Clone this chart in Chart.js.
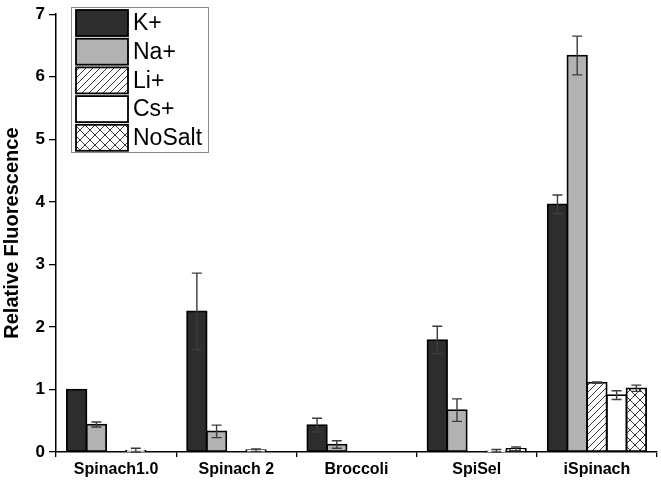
<!DOCTYPE html>
<html lang="en">
<head>
  <meta charset="UTF-8" />
  <title>Relative Fluorescence</title>
  <script src="https://cdn.jsdelivr.net/npm/chart.js"></script>
  <style>
    body { margin: 0; background: #fff; }
    #wrap { width: 661px; height: 480px; }
  </style>
</head>
<body>
  <div id="wrap"><canvas id="grafico" width="661" height="480"></canvas></div>

  <script>
    const categories = ['Spinach1.0', 'Spinach 2', 'Broccoli', 'SpiSel', 'iSpinach'];
    const kPlus   = [1.00, 2.25, 0.43, 1.79, 3.96];
    const kErr    = [0.00, 0.61, 0.11, 0.22, 0.15];
    const naPlus  = [0.44, 0.33, 0.12, 0.67, 6.34];
    const naErr   = [0.04, 0.10, 0.06, 0.18, 0.31];
    const liPlus  = [0, 0, 0, 0, 1.11];
    const liErr   = [0, 0, 0, 0, 0.01];
    const csPlus  = [0.02, 0.03, 0, 0.01, 0.91];
    const csErr   = [0.04, 0.02, 0, 0.03, 0.07];
    const noSalt  = [0, 0, 0, 0.05, 1.02];
    const noSaltErr = [0, 0, 0, 0.03, 0.05];
    const yTicks = [0, 1, 2, 3, 4, 5, 6, 7];

    function rayas(tam, ambas) {
      const c = document.createElement('canvas');
      c.width = tam; c.height = tam;
      const g = c.getContext('2d');
      g.fillStyle = '#fff';
      g.fillRect(0, 0, tam, tam);
      g.strokeStyle = '#222';
      g.lineWidth = 0.9;
      g.beginPath();
      g.moveTo(0, tam); g.lineTo(tam, 0);
      g.moveTo(-1, 1); g.lineTo(1, -1);
      g.moveTo(tam - 1, tam + 1); g.lineTo(tam + 1, tam - 1);
      if (ambas) {
        g.moveTo(0, 0); g.lineTo(tam, tam);
        g.moveTo(tam - 1, -1); g.lineTo(tam + 1, 1);
        g.moveTo(-1, tam - 1); g.lineTo(1, tam + 1);
      }
      g.stroke();
      return g.createPattern(c, 'repeat');
    }

    const ctx = document.getElementById('grafico').getContext('2d');
    const patLi = rayas(7, false);
    const patNo = rayas(10, true);

    const serie = (label, data, err, color) => ({
      label, data, err,
      backgroundColor: color,
      borderColor: '#000',
      borderWidth: 1.8,
      borderSkipped: false,
      inflateAmount: 0.8,
      categoryPercentage: 0.82,
      barPercentage: 1.0
    });

    const errorBars = {
      id: 'errorBars',
      afterDatasetsDraw(chart) {
        const g = chart.ctx, y = chart.scales.y;
        g.save();
        g.strokeStyle = '#3c3c3c';
        g.lineWidth = 1.4;
        chart.data.datasets.forEach((ds, i) => {
          chart.getDatasetMeta(i).data.forEach((bar, j) => {
            const e = ds.err[j];
            if (!e) return;
            const v = ds.data[j];
            const t = y.getPixelForValue(v + e);
            const b = y.getPixelForValue(Math.max(0, v - e));
            g.beginPath();
            g.moveTo(bar.x, t); g.lineTo(bar.x, b);
            g.moveTo(bar.x - 5, t); g.lineTo(bar.x + 5, t);
            g.moveTo(bar.x - 5, b); g.lineTo(bar.x + 5, b);
            g.stroke();
          });
        });
        g.restore();
      }
    };

    const leyenda = {
      id: 'leyenda',
      afterDraw(chart) {
        const g = chart.ctx;
        g.save();
        g.strokeStyle = '#8a8a8a';
        g.lineWidth = 1;
        g.strokeRect(71.5, 7.5, 137, 145);
        g.font = '23px Arial, "Liberation Sans", sans-serif';
        g.textBaseline = 'middle';
        chart.data.datasets.forEach((ds, i) => {
          const y0 = 10 + i * 28.7;
          g.fillStyle = ds.backgroundColor;
          g.fillRect(76, y0, 52, 26);
          g.strokeStyle = '#000';
          g.lineWidth = 1.8;
          g.strokeRect(76, y0, 52, 26);
          g.fillStyle = '#000';
          g.fillText(ds.label, 133, y0 + 14);
        });
        g.restore();
      }
    };

    new Chart(ctx, {
      type: 'bar',
      data: {
        labels: categories,
        datasets: [
          serie('K+', kPlus, kErr, '#2d2d2d'),
          serie('Na+', naPlus, naErr, '#b2b2b2'),
          serie('Li+', liPlus, liErr, patLi),
          serie('Cs+', csPlus, csErr, '#ffffff'),
          serie('NoSalt', noSalt, noSaltErr, patNo)
        ]
      },
      options: {
        responsive: false,
        animation: false,
        layout: { padding: { top: 8, right: 4, left: 0, bottom: 0 } },
        plugins: { legend: { display: false }, tooltip: { enabled: false } },
        scales: {
          x: {
            offset: true,
            grid: { offset: true, drawOnChartArea: false, tickLength: 5, color: '#000', lineWidth: 1.3 },
            border: { color: '#000', width: 1.5 },
            ticks: { color: '#000', padding: 3, maxRotation: 0, font: { family: 'Arial, "Liberation Sans", sans-serif', size: 16, weight: 'bold' } },
            afterFit: s => { s.height = 28; }
          },
          y: {
            min: 0, max: 7,
            afterBuildTicks: s => { s.ticks = yTicks.map(v => ({ value: v })); },
            grid: { drawOnChartArea: false, tickLength: 7, color: '#000', lineWidth: 1.3 },
            border: { color: '#000', width: 1.5 },
            ticks: { color: '#000', padding: 4, font: { family: 'Arial, "Liberation Sans", sans-serif', size: 17, weight: 'bold' } },
            title: {
              display: true,
              text: 'Relative Fluorescence',
              color: '#000',
              padding: { top: 0, bottom: 5 },
              font: { family: 'Arial, "Liberation Sans", sans-serif', size: 20, weight: 'bold' }
            },
            afterFit: s => { s.width = 56; }
          }
        }
      },
      plugins: [errorBars, leyenda]
    });
  </script>
</body>
</html>
